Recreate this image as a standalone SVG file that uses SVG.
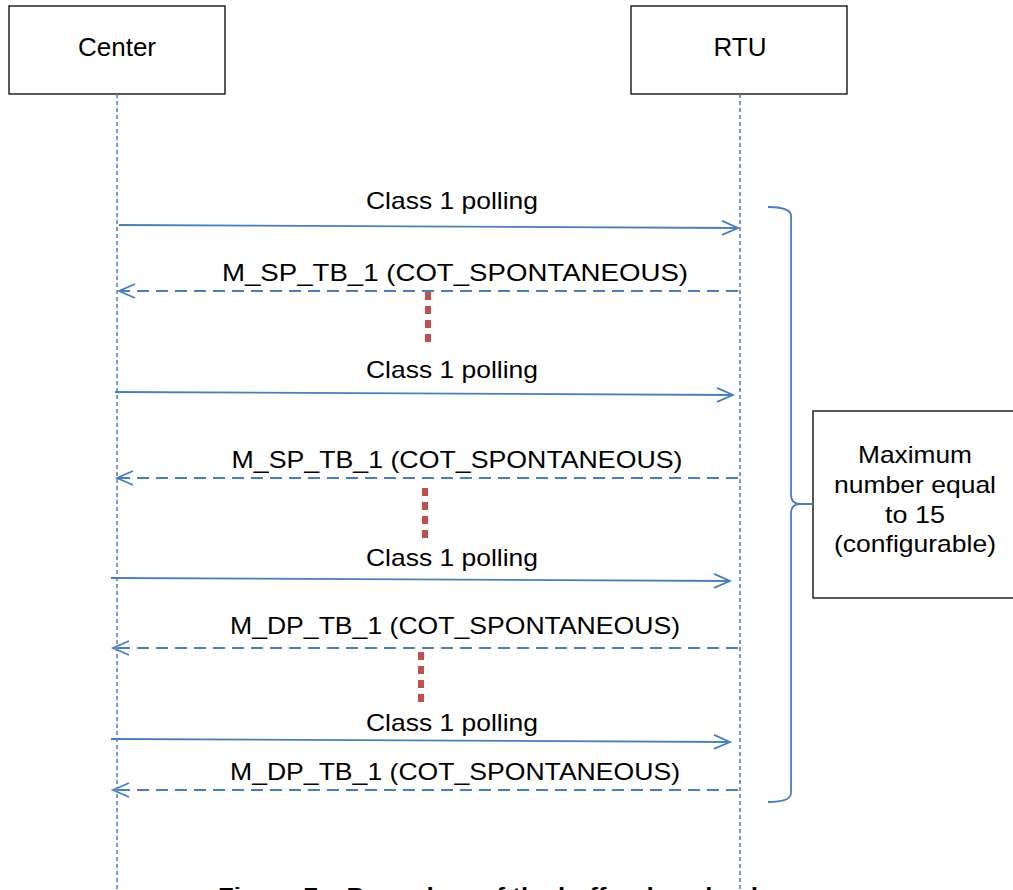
<svg xmlns="http://www.w3.org/2000/svg" width="1013" height="890" viewBox="0 0 1013 890">
<style>
.box{fill:#fff;stroke:#000;stroke-width:1.3}
.t{font-family:"Liberation Sans",Arial,sans-serif;fill:#000;text-anchor:middle}
.life{stroke:#4a7ebb;stroke-width:1.5;stroke-dasharray:4 3;fill:none}
.msg{stroke:#4a7ebb;stroke-width:1.8;fill:none}
.ret{stroke:#4a7ebb;stroke-width:1.8;fill:none;stroke-dasharray:12 7}
.dots{stroke:#c0504d;stroke-width:6;stroke-dasharray:8 6;fill:none}
.brace{stroke:#4a7ebb;stroke-width:1.8;fill:none}
</style>
<defs>
<marker id="ah" markerUnits="userSpaceOnUse" markerWidth="20" markerHeight="20" refX="17" refY="8" orient="auto">
<path d="M1,1 L17,8 L1,15" fill="none" stroke="#4a7ebb" stroke-width="1.8"/>
</marker>
</defs>
<rect width="1013" height="890" fill="#fff"/>
<g id="center">
<rect class="box" x="9" y="6" width="216" height="88"/>
<text class="t" x="117" y="56" font-size="26">Center</text>
</g>
<g id="rtu">
<rect class="box" x="631" y="6" width="216" height="88"/>
<text class="t" x="740" y="56" font-size="26">RTU</text>
</g>
<g id="note">
<rect class="box" x="813" y="411" width="210" height="187"/>
<text class="t" x="915" y="463" font-size="24" textLength="114" lengthAdjust="spacingAndGlyphs">Maximum</text>
<text class="t" x="915" y="493" font-size="24" textLength="162" lengthAdjust="spacingAndGlyphs">number equal</text>
<text class="t" x="915" y="523" font-size="24" textLength="60" lengthAdjust="spacingAndGlyphs">to 15</text>
<text class="t" x="915" y="552" font-size="24" textLength="162" lengthAdjust="spacingAndGlyphs">(configurable)</text>
</g>
<g id="connectors">
<line class="life" x1="117" y1="94" x2="117" y2="890"/>
<line class="life" x1="740" y1="94" x2="740" y2="890"/>
<line class="msg" x1="119" y1="225" x2="738" y2="228" marker-end="url(#ah)"/>
<line class="ret" x1="738" y1="291" x2="119" y2="291" marker-end="url(#ah)"/>
<line class="dots" x1="428" y1="292" x2="428" y2="342"/>
<line class="msg" x1="115" y1="392" x2="733" y2="395" marker-end="url(#ah)"/>
<line class="ret" x1="738" y1="478" x2="117" y2="478" marker-end="url(#ah)"/>
<line class="dots" x1="425" y1="488" x2="425" y2="540"/>
<line class="msg" x1="111" y1="578" x2="730" y2="581" marker-end="url(#ah)"/>
<line class="ret" x1="738" y1="648" x2="113" y2="648" marker-end="url(#ah)"/>
<line class="dots" x1="421" y1="652" x2="421" y2="704"/>
<line class="msg" x1="111" y1="739" x2="730" y2="742" marker-end="url(#ah)"/>
<line class="ret" x1="738" y1="790" x2="113" y2="790" marker-end="url(#ah)"/>
<path class="brace" d="M768,207 Q791,207 791,216 L791,494 Q791,504 800,504 L813,504 M800,504 Q791,504 791,514 L791,793 Q791,802 768,802"/>
</g>
<g id="labels">
<text class="t" x="452" y="209" font-size="24" textLength="172" lengthAdjust="spacingAndGlyphs">Class 1 polling</text>
<text class="t" x="455" y="281" font-size="24" textLength="466" lengthAdjust="spacingAndGlyphs">M_SP_TB_1 (COT_SPONTANEOUS)</text>
<text class="t" x="452" y="378" font-size="24" textLength="172" lengthAdjust="spacingAndGlyphs">Class 1 polling</text>
<text class="t" x="457" y="468" font-size="24" textLength="451" lengthAdjust="spacingAndGlyphs">M_SP_TB_1 (COT_SPONTANEOUS)</text>
<text class="t" x="452" y="566" font-size="24" textLength="172" lengthAdjust="spacingAndGlyphs">Class 1 polling</text>
<text class="t" x="455" y="634" font-size="24" textLength="450" lengthAdjust="spacingAndGlyphs">M_DP_TB_1 (COT_SPONTANEOUS)</text>
<text class="t" x="452" y="731" font-size="24" textLength="172" lengthAdjust="spacingAndGlyphs">Class 1 polling</text>
<text class="t" x="455" y="780" font-size="24" textLength="450" lengthAdjust="spacingAndGlyphs">M_DP_TB_1 (COT_SPONTANEOUS)</text>
<text class="t" x="488" y="902" font-size="21" font-weight="bold" textLength="540" lengthAdjust="spacingAndGlyphs">Figure 7 – Procedure of the buffer download</text>
</g>
</svg>
